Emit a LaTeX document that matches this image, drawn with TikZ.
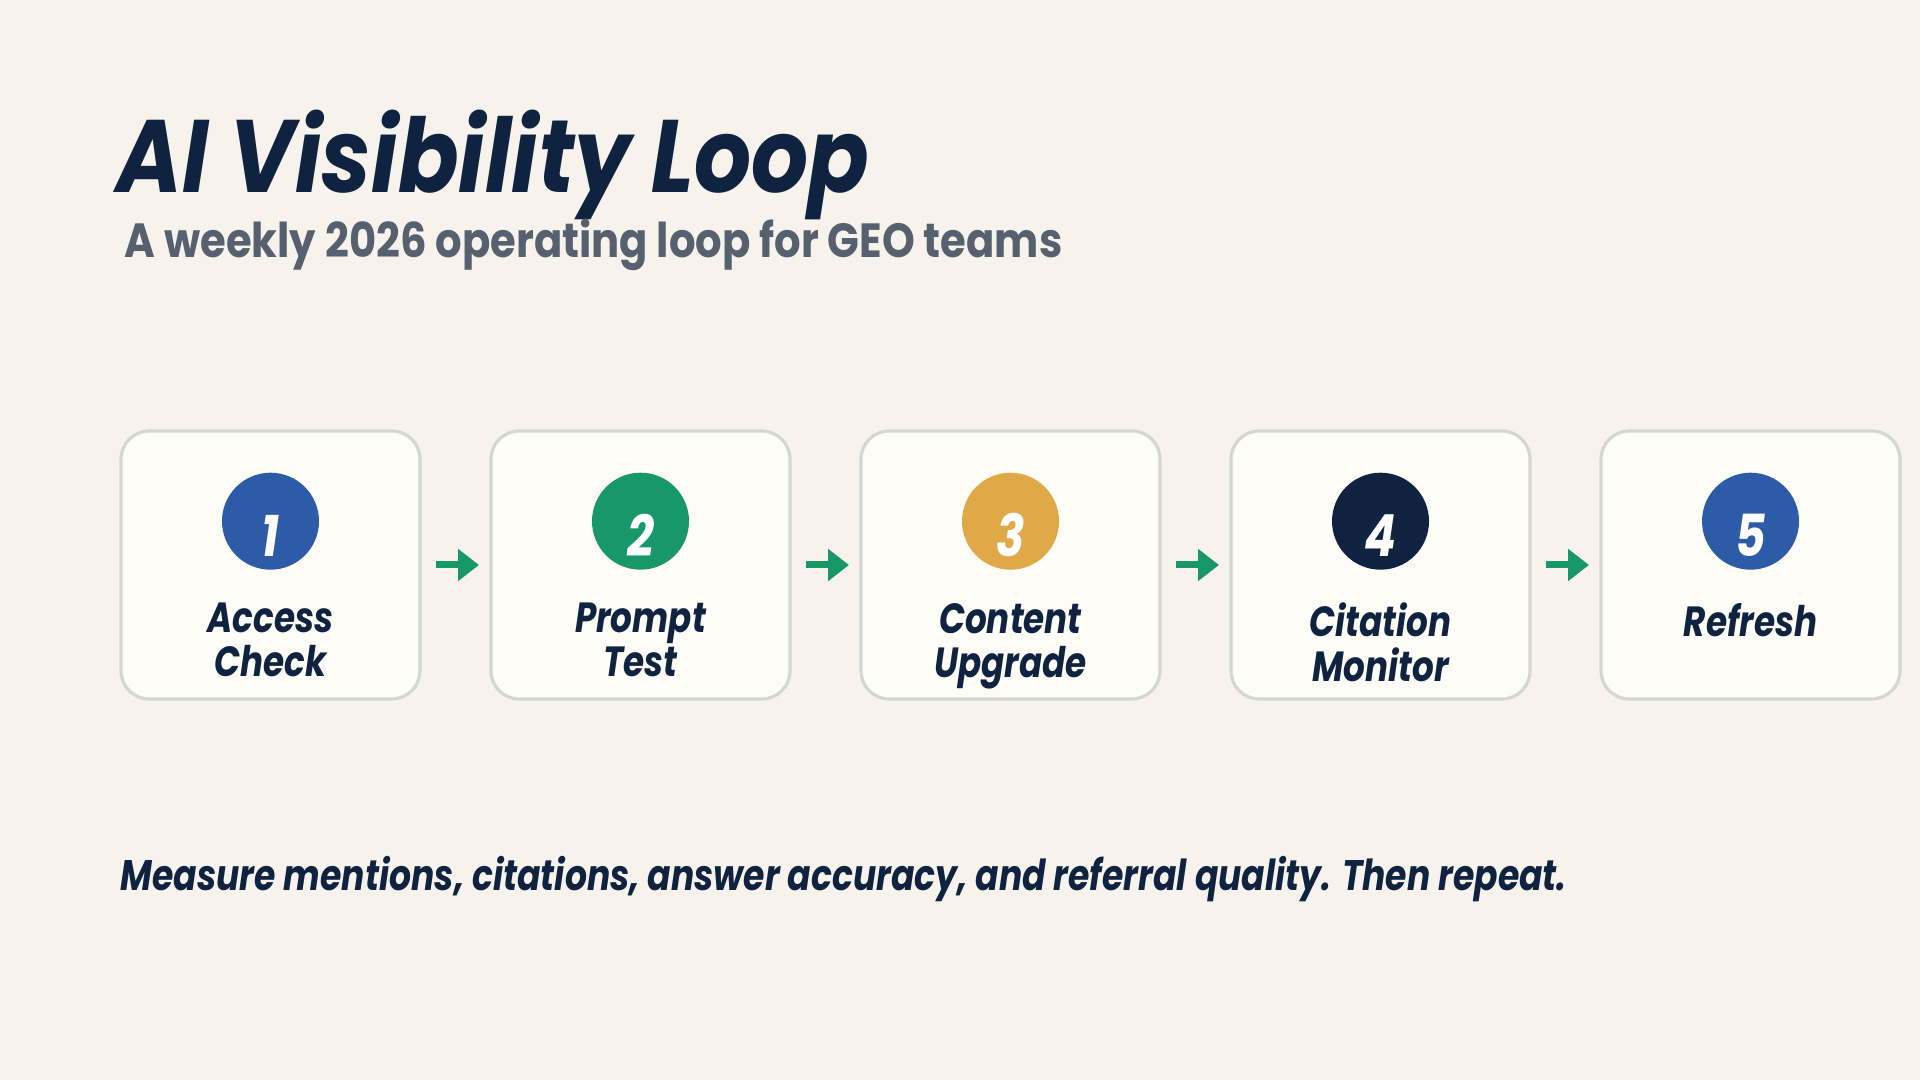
\documentclass[tikz,border=0pt]{standalone}
\usepackage{fontspec}
\setmainfont{Poppins}[FakeStretch=0.81]
\newfontfamily\titlefont{Poppins}[FakeStretch=0.87]
\usepackage{xcolor}
\usetikzlibrary{positioning,arrows.meta}

\definecolor{bgcream}{HTML}{F7F3EC}
\definecolor{boxfill}{HTML}{FDFCF7}
\definecolor{boxline}{HTML}{D3D7D3}
\definecolor{navy}{HTML}{0F2340}
\definecolor{slate}{HTML}{56606E}
\definecolor{stepblue}{HTML}{2D5BA8}
\definecolor{stepgreen}{HTML}{17976A}
\definecolor{stepgold}{HTML}{E0A947}

\begin{document}
\begin{tikzpicture}[
    node distance=0.71cm,
    stepbox/.style={
        rectangle,
        draw=boxline,
        line width=0.9pt,
        fill=boxfill,
        rounded corners=8pt,
        minimum width=2.99cm,
        minimum height=2.68cm,
        outer sep=0pt
    },
    badge/.style={
        circle,
        minimum size=0.97cm,
        inner sep=0pt,
        text height=0.7cm,
        text depth=0pt,
        text=white,
        font=\fontsize{16.5}{16.5}\selectfont\bfseries\itshape
    },
    steplabel/.style={
        align=center,
        inner sep=0pt,
        text=navy,
        font=\fontsize{12}{12.6}\selectfont\bfseries\itshape
    },
    arrow/.style={
        -{Triangle[length=0.21cm,width=0.31cm]},
        line width=0.07cm,
        draw=stepgreen,
        shorten <=0.16cm,
        shorten >=0.12cm
    }
]

% Canvas
\fill[bgcream] (0,0) rectangle (19.2,10.8);
\useasboundingbox (0,0) rectangle (19.2,10.8);

% Title and subtitle
\node[anchor=base west, inner sep=0pt, text=navy,
      font=\titlefont\fontsize{29.3}{29.3}\selectfont\bfseries\itshape] (title) at (1.16,8.87) {AI Visibility Loop};
\node[anchor=base west, inner sep=0pt, text=slate,
      font=\titlefont\fontsize{13.65}{13.65}\selectfont\bfseries] (subtitle) at (1.24,8.22) {A weekly 2026 operating loop for GEO teams};

% Step boxes
\node[stepbox] (b1) at (2.705,5.15) {};
\node[stepbox, right=of b1] (b2) {};
\node[stepbox, right=of b2] (b3) {};
\node[stepbox, right=of b3] (b4) {};
\node[stepbox, right=of b4] (b5) {};

% Numbered badges
\node[badge, fill=stepblue, below=0.41cm of b1.north] (n1) {1};
\node[badge, fill=stepgreen, below=0.41cm of b2.north] (n2) {2};
\node[badge, fill=stepgold, below=0.41cm of b3.north] (n3) {3};
\node[badge, fill=navy, below=0.41cm of b4.north] (n4) {4};
\node[badge, fill=stepblue, below=0.41cm of b5.north] (n5) {5};

% Step names
\node[steplabel, below=0.32cm of n1] (l1) {Access\\Check};
\node[steplabel, below=0.32cm of n2] (l2) {Prompt\\Test};
\node[steplabel, below=0.32cm of n3] (l3) {Content\\Upgrade};
\node[steplabel, below=0.32cm of n4] (l4) {Citation\\Monitor};
\node[steplabel, below=0.32cm of n5] (l5) {Refresh};

% Arrows
\draw[arrow] (b1.east) -- (b2.west);
\draw[arrow] (b2.east) -- (b3.west);
\draw[arrow] (b3.east) -- (b4.west);
\draw[arrow] (b4.east) -- (b5.west);

% Footer
\node[anchor=base west, inner sep=0pt, text=navy,
      font=\fontsize{12.15}{12.15}\selectfont\bfseries\itshape] (footer) at (1.20,1.89) {Measure mentions, citations, answer accuracy, and referral quality. Then repeat.};

\end{tikzpicture}
\end{document}
